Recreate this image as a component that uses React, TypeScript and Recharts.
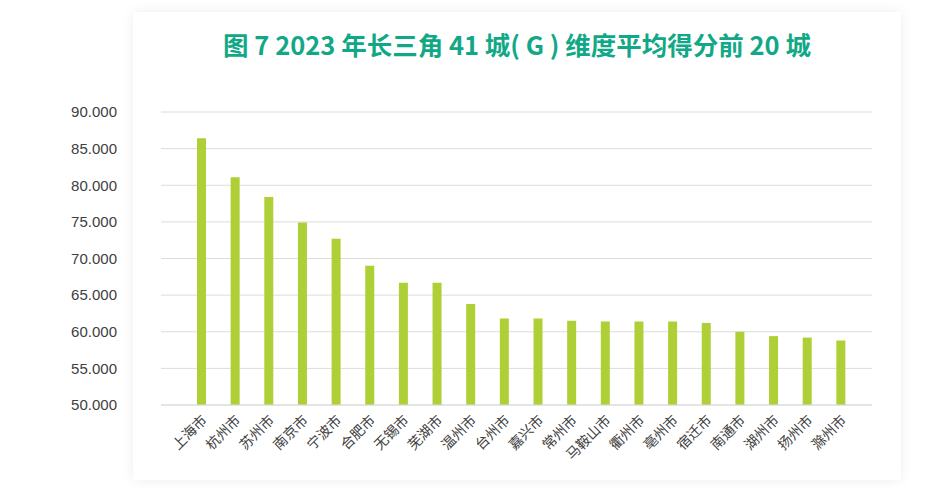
import React from 'react';
import { BarChart, Bar, XAxis, YAxis, CartesianGrid } from 'recharts';

const cities = [
    '上海市', '杭州市', '苏州市', '南京市', '宁波市', '合肥市', '无锡市', '芜湖市', '温州市', '台州市',
    '嘉兴市', '常州市', '马鞍山市', '衢州市', '亳州市', '宿迁市', '南通市', '湖州市', '扬州市', '滁州市',
];
const scores = [
    86.4, 81.1, 78.4, 74.9, 72.7, 69.0, 66.7, 66.7, 63.8, 61.8,
    61.8, 61.5, 61.4, 61.4, 61.4, 61.2, 60.0, 59.4, 59.2, 58.8,
];
const yTicks = [50, 55, 60, 65, 70, 75, 80, 85, 90];
const title = '图 7 2023 年长三角 41 城( G ) 维度平均得分前 20 城';

const data = cities.map((name, i) => ({ name, score: scores[i] }));

const CityTick = (props: any) => {
    const { x, y, payload } = props;
    return (
        <g transform={`translate(${x + 6},${y + 8})`}>
            <text
                textAnchor="end"
                transform="rotate(-45)"
                fontSize={14}
                fill="#404040"
                fontFamily="'Noto Sans CJK SC', sans-serif"
            >
                {payload.value}
            </text>
        </g>
    );
};

const App: React.FC = () => {
    return (
        <div style={{ position: 'absolute', left: 0, top: 0, width: 939, height: 498, background: '#fff', overflow: 'hidden' }}>
            <div
                style={{
                    position: 'absolute', left: 133, top: 12, width: 768, height: 468,
                    background: '#fff', boxShadow: '0 0 12px rgba(0,0,0,0.07)',
                }}
            />
            <div
                style={{
                    position: 'absolute', left: 133, top: 27, width: 768, textAlign: 'center',
                    fontFamily: "'Noto Sans CJK SC', sans-serif", fontWeight: 700, fontSize: 25.5,
                    color: '#12a887', lineHeight: '34px', whiteSpace: 'nowrap',
                }}
            >
                {title}
            </div>
            <div style={{ position: 'absolute', left: 0, top: 0 }}>
                <BarChart
                    width={939}
                    height={498}
                    data={data}
                    margin={{ top: 112, right: 67, bottom: 0, left: 101 }}
                >
                    <CartesianGrid vertical={false} stroke="#dcdcdc" />
                    <XAxis
                        dataKey="name"
                        interval={0}
                        height={93}
                        padding={{ left: 24, right: 14 }}
                        tickLine={false}
                        axisLine={{ stroke: '#dcdcdc' }}
                        tick={<CityTick />}
                    />
                    <YAxis
                        domain={[50, 90]}
                        ticks={yTicks}
                        width={60}
                        tickLine={false}
                        axisLine={false}
                        tickSize={0}
                        tickMargin={44}
                        tickFormatter={(v: number) => v.toFixed(3)}
                        tick={{ fill: '#404040', fontSize: 15, fontFamily: "'Liberation Sans', Arial, sans-serif" }}
                    />
                    <Bar dataKey="score" fill="#aecf35" barSize={9} isAnimationActive={false} />
                </BarChart>
            </div>
        </div>
    );
};

export default App;
